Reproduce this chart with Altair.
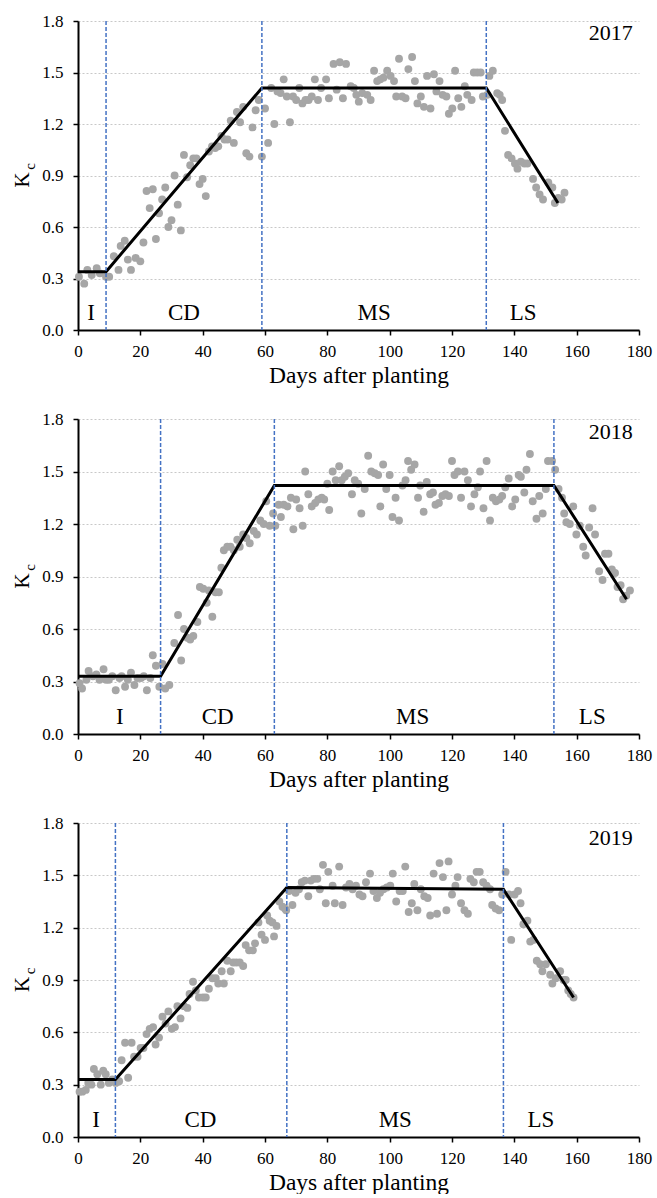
import altair as alt
import pandas as pd

FONT = "Liberation Serif"

# ---------------- data ----------------
days_2017 = [0.3, 2, 3, 4.4, 6, 7, 9, 10, 11.5, 13, 13.7, 15, 16, 17, 18.5, 20, 21, 22, 23, 24, 25, 26, 27, 28,
             29, 30, 31, 32, 33, 34, 35, 36, 37, 38, 39, 40, 41, 42, 43, 44, 45, 46, 47, 48, 49, 50, 51, 52, 53,
             54, 55, 56, 57, 58, 59, 60, 61, 62, 63, 64, 65, 66, 67, 68, 69, 70, 71, 72, 73, 74, 75, 76, 77, 78,
             79.6, 80.5, 82, 83, 84, 85, 86, 87.5, 88.5, 89.3, 90.1, 91.2, 92.8, 93.9, 95, 96, 97, 98, 99.2,
             100.3, 101.4, 102.1, 103, 104, 105.1, 106, 107.2, 108.1, 108.9, 110, 111, 112, 113.1, 114.2, 115,
             116, 117, 118.2, 119, 120.1, 121, 122, 123, 124.1, 124.9, 126.3, 127, 128.1, 129.2, 129.9, 131.3,
             132, 133.1, 134.5, 135.3, 136.1, 137, 138, 139.1, 140.2, 141, 142.1, 143.2, 144.2, 146, 147, 148.1,
             149.2, 150.9, 152.2, 153, 154.1, 155.2, 156.1]
kc_2017 = [0.31, 0.27, 0.35, 0.32, 0.36, 0.33, 0.31, 0.31, 0.43, 0.35, 0.49, 0.52, 0.41, 0.35, 0.42, 0.40, 0.51,
           0.81, 0.71, 0.82, 0.53, 0.68, 0.76, 0.83, 0.60, 0.64, 0.90, 0.73, 0.58, 1.02, 0.89, 0.96, 1.00, 1.00,
           0.85, 0.88, 0.78, 1.04, 1.07, 1.06, 1.07, 1.13, 1.11, 1.11, 1.22, 1.09, 1.27, 1.21, 1.30, 1.03, 1.01,
           1.18, 1.28, 1.34, 1.01, 1.29, 1.09, 1.41, 1.20, 1.39, 1.38, 1.46, 1.36, 1.21, 1.36, 1.34, 1.41, 1.32,
           1.34, 1.34, 1.36, 1.46, 1.34, 1.41, 1.46, 1.35, 1.55, 1.40, 1.56, 1.35, 1.55, 1.42, 1.41, 1.37, 1.33,
           1.38, 1.37, 1.34, 1.51, 1.45, 1.46, 1.47, 1.51, 1.48, 1.45, 1.36, 1.58, 1.36, 1.35, 1.52, 1.59, 1.45,
           1.32, 1.36, 1.30, 1.48, 1.29, 1.49, 1.39, 1.45, 1.37, 1.36, 1.26, 1.29, 1.51, 1.35, 1.30, 1.42, 1.37,
           1.34, 1.50, 1.50, 1.50, 1.36, 1.37, 1.48, 1.51, 1.38, 1.37, 1.34, 1.16, 1.02, 1.00, 0.97, 0.94, 0.98,
           0.97, 0.97, 0.88, 0.83, 0.79, 0.76, 0.86, 0.83, 0.74, 0.77, 0.76, 0.80]

days_2018 = [0.5, 1.3, 2.7, 3.4, 4.8, 5.9, 6.9, 8.2, 9, 9.9, 11, 12.1, 13.3, 14, 15.1, 16, 17, 18.1, 19.1, 20.2,
             21.1, 22.1, 23.2, 24, 25, 26.1, 27.1, 28, 29.3, 30.9, 32.1, 33.1, 34, 35.1, 36, 37, 38.3, 39.1, 40.2,
             41.3, 42, 43.1, 44.1, 45.2, 46, 46.8, 47.9, 48.9, 50, 51.1, 51.9, 53, 54, 55.1, 56.4, 57.4, 58.5,
             59.6, 60.4, 61.5, 62.6, 63.3, 64.4, 65.1, 66, 67.2, 68.3, 69.1, 70, 71.1, 72.1, 72.9, 73.9, 75, 76.1,
             77.1, 78.2, 79, 80, 80.6, 81.7, 82.7, 83.8, 84.6, 85.6, 86.7, 87.9, 88.8, 89.9, 90.9, 92, 93.1, 94.1,
             95.2, 96.3, 97, 97.9, 98.9, 100, 100.9, 101.9, 103, 104.1, 105.1, 105.9, 106.9, 108, 109.1, 109.8,
             110.9, 111.9, 113, 113.9, 114.7, 115.8, 116.9, 117.9, 119, 120, 120.8, 121.9, 122.9, 124, 125.1,
             126.1, 127.2, 128.3, 129, 130.1, 131.1, 132.2, 133.1, 134.1, 135.2, 136.1, 137.1, 138.2, 139.3,
             140.3, 141.4, 142.1, 143.2, 143.9, 145, 145.9, 147.1, 148, 149.1, 150.1, 150.8, 152.1, 153.1, 154.2,
             155.3, 156, 156.7, 157.8, 158.9, 159.9, 161, 162.1, 162.9, 164, 165.1, 165.9, 167.2, 168.3, 169.1,
             170.2, 171.3, 172.3, 173.1, 174.1, 174.9, 175.9, 177.1]
kc_2018 = [0.29, 0.26, 0.31, 0.36, 0.33, 0.34, 0.31, 0.37, 0.31, 0.31, 0.33, 0.25, 0.32, 0.33, 0.27, 0.31, 0.35,
           0.28, 0.32, 0.32, 0.33, 0.25, 0.32, 0.45, 0.39, 0.27, 0.40, 0.26, 0.28, 0.52, 0.68, 0.42, 0.60, 0.55,
           0.54, 0.56, 0.64, 0.84, 0.83, 0.75, 0.82, 0.67, 0.81, 0.81, 0.95, 1.05, 1.07, 1.07, 1.05, 1.11, 1.07,
           1.14, 1.12, 1.09, 1.16, 1.14, 1.22, 1.20, 1.33, 1.19, 1.26, 1.19, 1.31, 1.24, 1.31, 1.30, 1.35, 1.17,
           1.34, 1.29, 1.19, 1.50, 1.37, 1.30, 1.32, 1.34, 1.35, 1.34, 1.43, 1.28, 1.50, 1.45, 1.53, 1.45, 1.47,
           1.49, 1.37, 1.45, 1.43, 1.26, 1.40, 1.59, 1.50, 1.49, 1.48, 1.30, 1.54, 1.40, 1.48, 1.24, 1.35, 1.22,
           1.42, 1.45, 1.56, 1.51, 1.54, 1.35, 1.42, 1.27, 1.44, 1.37, 1.38, 1.31, 1.32, 1.36, 1.37, 1.36, 1.56,
           1.48, 1.50, 1.35, 1.50, 1.45, 1.30, 1.37, 1.41, 1.50, 1.29, 1.56, 1.22, 1.35, 1.33, 1.34, 1.36, 1.41,
           1.46, 1.30, 1.34, 1.48, 1.47, 1.38, 1.51, 1.60, 1.33, 1.23, 1.36, 1.26, 1.40, 1.56, 1.56, 1.51, 1.40,
           1.35, 1.26, 1.21, 1.20, 1.30, 1.14, 1.19, 1.07, 1.02, 1.18, 1.29, 1.14, 0.93, 0.88, 1.03, 1.03, 0.94,
           0.92, 0.84, 0.85, 0.77, 0.79, 0.82]

days_2019 = [0.5, 1.4, 2.5, 3.3, 4.3, 5.1, 6.2, 7.3, 8.1, 8.9, 9.9, 11, 12.1, 13.2, 14, 15.1, 16.1, 17.2, 18, 19.1,
             20.1, 21, 22, 23, 24.1, 24.9, 26, 27.1, 28.1, 29, 30.1, 31.1, 31.9, 32.9, 34, 35.1, 35.8, 36.9, 37.8,
             38.8, 40.1, 41, 42, 43.1, 44.2, 45, 46.1, 46.8, 47.9, 49, 49.8, 50.8, 51.9, 53, 53.8, 54.9, 56.1,
             56.8, 57.9, 58.9, 60, 60.7, 61.5, 62.4, 62.9, 63.7, 64.6, 65.6, 66.4, 66.8, 67.7, 68.8, 69.8, 70.9,
             71.8, 72.8, 73.9, 74.7, 75.7, 76.8, 77.6, 78.6, 79.5, 80.3, 81.7, 82.4, 83.8, 84.9, 86, 87.1, 88.1,
             89.2, 90.3, 91.3, 92.4, 93.7, 94.8, 95.9, 96.9, 98, 99.1, 100.2, 101, 102.1, 103.2, 104.2, 105, 106.1,
             107.1, 107.9, 108.9, 110, 111.1, 112.2, 113, 114.1, 115.2, 116, 117.1, 118.2, 118.9, 120, 121.1,
             121.8, 122.9, 124, 125.1, 125.9, 127, 127.9, 128.9, 130, 131.1, 132.2, 132.9, 134, 135.1, 136.1,
             137.2, 138.3, 139, 140.1, 141.2, 142, 142.9, 144.2, 145.1, 146.1, 147.2, 148.3, 149, 150.1, 151.5,
             152.2, 153.3, 154.7, 155.8, 156.5, 157.3, 158.1, 159]
kc_2019 = [0.26, 0.26, 0.27, 0.31, 0.30, 0.39, 0.36, 0.30, 0.38, 0.36, 0.31, 0.33, 0.31, 0.32, 0.44, 0.54, 0.34,
           0.54, 0.46, 0.46, 0.51, 0.51, 0.59, 0.62, 0.63, 0.53, 0.57, 0.69, 0.65, 0.72, 0.62, 0.63, 0.75, 0.68,
           0.75, 0.74, 0.82, 0.89, 0.84, 0.80, 0.80, 0.80, 0.85, 0.91, 0.91, 0.88, 0.95, 0.88, 1.01, 0.95, 1.00,
           1.00, 1.00, 0.98, 1.10, 1.07, 1.07, 1.11, 1.23, 1.16, 1.13, 1.27, 1.24, 1.23, 1.15, 1.21, 1.35, 1.32,
           1.31, 1.30, 1.41, 1.33, 1.40, 1.42, 1.46, 1.47, 1.38, 1.47, 1.48, 1.48, 1.42, 1.56, 1.34, 1.52, 1.44,
           1.34, 1.55, 1.33, 1.43, 1.45, 1.42, 1.44, 1.39, 1.38, 1.46, 1.51, 1.41, 1.37, 1.40, 1.42, 1.43, 1.44,
           1.51, 1.35, 1.41, 1.41, 1.55, 1.29, 1.34, 1.45, 1.30, 1.42, 1.38, 1.37, 1.27, 1.51, 1.28, 1.57, 1.49,
           1.30, 1.58, 1.39, 1.44, 1.49, 1.34, 1.30, 1.28, 1.48, 1.46, 1.52, 1.52, 1.46, 1.44, 1.42, 1.33, 1.31,
           1.30, 1.39, 1.52, 1.39, 1.13, 1.39, 1.41, 1.34, 1.22, 1.24, 1.12, 1.13, 1.01, 0.99, 0.95, 0.99, 0.93,
           0.88, 0.91, 0.95, 0.90, 0.90, 0.84, 0.82, 0.80]

# Kc model lines (segment break points)
line_x_2017 = [0, 9, 59, 131, 154]
line_y_2017 = [0.34, 0.34, 1.41, 1.41, 0.74]
line_x_2018 = [0, 26.5, 63, 152.7, 176]
line_y_2018 = [0.33, 0.33, 1.42, 1.42, 0.77]
line_x_2019 = [0, 12, 67, 136.5, 159]
line_y_2019 = [0.33, 0.33, 1.43, 1.42, 0.80]

# stage boundaries (dashed)
bounds_2017 = [9, 59, 131]
bounds_2018 = [26.5, 63, 152.7]
bounds_2019 = [12, 67, 136.5]

stage_names = ["I", "CD", "MS", "LS"]
stage_x_2017 = [4.2, 34, 95, 142.8]
stage_x_2018 = [13.4, 44.8, 107.4, 165]
stage_x_2019 = [5.8, 39.3, 101.8, 148.5]
stage_y = 0.1

years = ["2017", "2018", "2019"]
year_x = 178
year_y = [1.73, 1.726, 1.714]

x_ticks = [0, 20, 40, 60, 80, 100, 120, 140, 160, 180]
y_ticks = [0.0, 0.3, 0.6, 0.9, 1.2, 1.5, 1.8]

W = 561
HEIGHTS = [309, 315, 314]


def panel(year, yy, days, kc, lx, ly, bounds, sx, h):
    xsc = alt.Scale(domain=[0, 180], nice=False)
    ysc = alt.Scale(domain=[0, 1.8], nice=False)
    xax = alt.Axis(values=x_ticks, grid=False, title="Days after planting", titleFontSize=23.5,
                   labelFontSize=17, tickSize=5, labelPadding=8, titlePadding=4, labelFlush=False,
                   labelFont=FONT, titleFont=FONT, titleFontWeight="normal")
    yax = alt.Axis(values=y_ticks, format=".1f", grid=True, title="K", titleFontSize=21,
                   labelFontSize=17, tickSize=5, labelPadding=10, titlePadding=9, titleY=h / 2 + 4,
                   labelFont=FONT, titleFont=FONT, titleFontWeight="normal")

    pts = alt.Chart(pd.DataFrame({"day": days, "kc": kc})).mark_circle(
        size=62, color="#A6A6A6", opacity=1
    ).encode(
        x=alt.X("day:Q", scale=xsc, axis=xax),
        y=alt.Y("kc:Q", scale=ysc, axis=yax),
    )
    line = alt.Chart(pd.DataFrame({"day": lx, "kc": ly})).mark_line(
        color="black", strokeWidth=3
    ).encode(x=alt.X("day:Q", scale=xsc), y=alt.Y("kc:Q", scale=ysc))
    rules = alt.Chart(pd.DataFrame({"day": bounds})).mark_rule(
        color="#4472C4", strokeDash=[4, 2], strokeWidth=1.5
    ).encode(x=alt.X("day:Q", scale=xsc))
    stages = alt.Chart(pd.DataFrame({"day": sx, "kc": [stage_y] * 4, "name": stage_names})).mark_text(
        font=FONT, fontSize=23, color="black", baseline="middle", align="center"
    ).encode(x=alt.X("day:Q", scale=xsc), y=alt.Y("kc:Q", scale=ysc), text="name:N")
    yr = alt.Chart(pd.DataFrame({"day": [year_x], "kc": [yy], "t": [year]})).mark_text(
        font=FONT, fontSize=22, color="black", baseline="middle", align="right"
    ).encode(x=alt.X("day:Q", scale=xsc), y=alt.Y("kc:Q", scale=ysc), text="t:N")
    sub = alt.Chart(pd.DataFrame({"t": ["c"]})).mark_text(
        font=FONT, fontSize=15, color="black", angle=270, baseline="middle", align="center"
    ).encode(x=alt.value(-48), y=alt.value(h / 2 - 9), text="t:N")

    return alt.layer(pts, line, rules, stages, yr, sub).properties(width=W, height=h)


panels = [
    panel(years[0], year_y[0], days_2017, kc_2017, line_x_2017, line_y_2017, bounds_2017, stage_x_2017, HEIGHTS[0]),
    panel(years[1], year_y[1], days_2018, kc_2018, line_x_2018, line_y_2018, bounds_2018, stage_x_2018, HEIGHTS[1]),
    panel(years[2], year_y[2], days_2019, kc_2019, line_x_2019, line_y_2019, bounds_2019, stage_x_2019, HEIGHTS[2]),
]

chart = alt.vconcat(*panels, spacing=23).properties(
    padding={"left": 11, "top": 12, "right": 2, "bottom": 0}
).configure_view(stroke=None).configure_axis(
    domainColor="black", domainWidth=2, tickColor="black", tickWidth=1.5,
    labelFont=FONT, labelColor="black", titleFont=FONT, titleColor="black",
    titleFontWeight="normal", gridColor="#C8C8C8", gridDash=[2, 2], gridWidth=1,
)

chart.save("out.html", embed_options={"renderer": "svg", "actions": False})
